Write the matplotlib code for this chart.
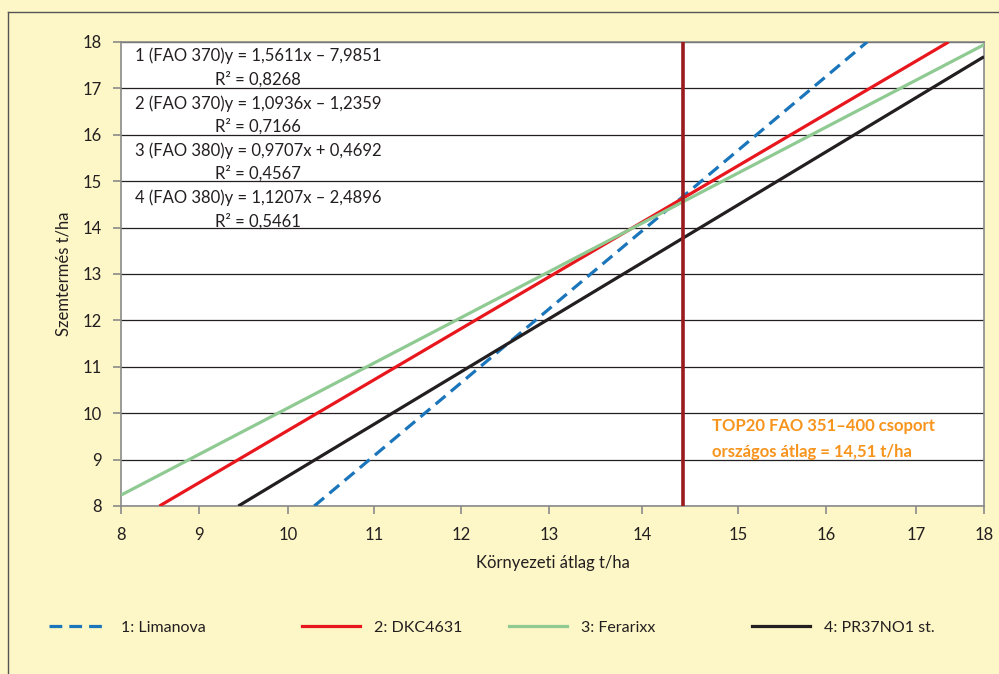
#!/usr/bin/env python3
"""Regression lines of grain yield vs. environmental mean"""

import matplotlib
matplotlib.use("Agg")
import matplotlib.pyplot as plt
from matplotlib.lines import Line2D
import numpy as np

# data
hybrids = ["1: Limanova", "2: DKC4631", "3: Ferarixx", "4: PR37NO1 st."]
slopes = [1.5611, 1.0936, 0.9707, 1.1207]
intercepts = [-7.9851, -1.2359, 0.4692, -2.4896]
eq_labels = [
    "1 (FAO 370)y = 1,5611x \u2013 7,9851",
    "2 (FAO 370)y = 1,0936x \u2013 1,2359",
    "3 (FAO 380)y = 0,9707x + 0,4692",
    "4 (FAO 380)y = 1,1207x \u2013 2,4896",
]
r2_labels = ["R\u00b2 = 0,8268", "R\u00b2 = 0,7166", "R\u00b2 = 0,4567", "R\u00b2 = 0,5461"]
national_avg = 14.51
# tick positions as they sit on the original (slightly uneven) axis
xtick_pos = [8, 8.9, 9.94, 10.93, 11.94, 12.96, 14.04, 15.15, 16.17, 17.21, 18]
xtick_labels = ["8", "9", "10", "11", "12", "13", "14", "15", "16", "17", "18"]
ytick_pos = list(range(8, 19))

colors = ["#1b75bb", "#e8161d", "#8fca92", "#231f20"]
styles = [(0, (4, 2.2)), "-", "-", "-"]

plt.rcParams["font.family"] = ["Lato", "DejaVu Sans"]
text_col = "#231f20"

fig = plt.figure(figsize=(9.99, 6.74), dpi=100, facecolor="#fdf6c6")
ax = fig.add_axes([121 / 999, 1 - 506 / 674, 863 / 999, 464 / 674])
ax.set_facecolor("white")
ax.set_xlim(8, 18)
ax.set_ylim(8, 18)

for a, b, c, ls in zip(slopes, intercepts, colors, styles):
    x0 = max(8, (8 - b) / a)
    x1 = min(18, (18 - b) / a)
    xs = np.array([x0, x1])
    ax.plot(xs, a * xs + b, color=c, lw=2.3, ls=ls, zorder=3, solid_capstyle="butt")

ax.axvline(national_avg, color="#9a1b1e", lw=2.6, zorder=4)

ax.set_yticks(ytick_pos)
ax.set_xticks(xtick_pos)
ax.set_xticklabels(xtick_labels)
ax.grid(axis="y", color="#231f20", lw=0.9, zorder=1)
for s in ax.spines.values():
    s.set_color("#8a8a8a")
    s.set_linewidth(1.2)
ax.tick_params(axis="both", colors="#8a8a8a", labelcolor=text_col, labelsize=12,
               length=6, width=1.2)
ax.tick_params(axis="y", pad=8)
ax.tick_params(axis="x", pad=9)

ax.set_xlabel("K\u00f6rnyezeti \u00e1tlag t/ha", fontsize=12, color=text_col, labelpad=9)
ax.set_ylabel("Szemterm\u00e9s t/ha", fontsize=12, color=text_col, labelpad=8)

# equations in the top left corner
for i, (eq, r2) in enumerate(zip(eq_labels, r2_labels)):
    y_eq = 17.7 - i * 1.02
    ax.text(9.59, y_eq, eq, ha="center", va="center", fontsize=12, color=text_col)
    ax.text(9.59, y_eq - 0.5, r2, ha="center", va="center", fontsize=12, color=text_col)

ax.text(14.85, 9.72, "TOP20 FAO 351\u2013400 csoport", fontsize=12, fontweight="bold",
        color="#f7941d", va="center")
ax.text(14.85, 9.17, "orsz\u00e1gos \u00e1tlag = 14,51 t/ha", fontsize=12, fontweight="bold",
        color="#f7941d", va="center")

# legend, one entry per column position
leg_x = [35 / 999, 288 / 999, 495 / 999, 738 / 999]
for name, c, ls, lx in zip(hybrids, colors, styles, leg_x):
    h = Line2D([], [], color=c, lw=2.3, ls=ls)
    fig.legend([h], [name], loc="center left", bbox_to_anchor=(lx, 1 - 628 / 674),
               frameon=False, fontsize=11.5, handlelength=3.6, handletextpad=0.9,
               labelcolor=text_col)

# frame lines on the left and top
fig.add_artist(Line2D([8 / 999, 8 / 999], [0, 1 - 12 / 674], color="#555555", lw=1,
                      transform=fig.transFigure))
fig.add_artist(Line2D([8 / 999, 1], [1 - 12 / 674, 1 - 12 / 674], color="#555555", lw=1,
                      transform=fig.transFigure))

fig.savefig("out.png", dpi=100, facecolor=fig.get_facecolor())
